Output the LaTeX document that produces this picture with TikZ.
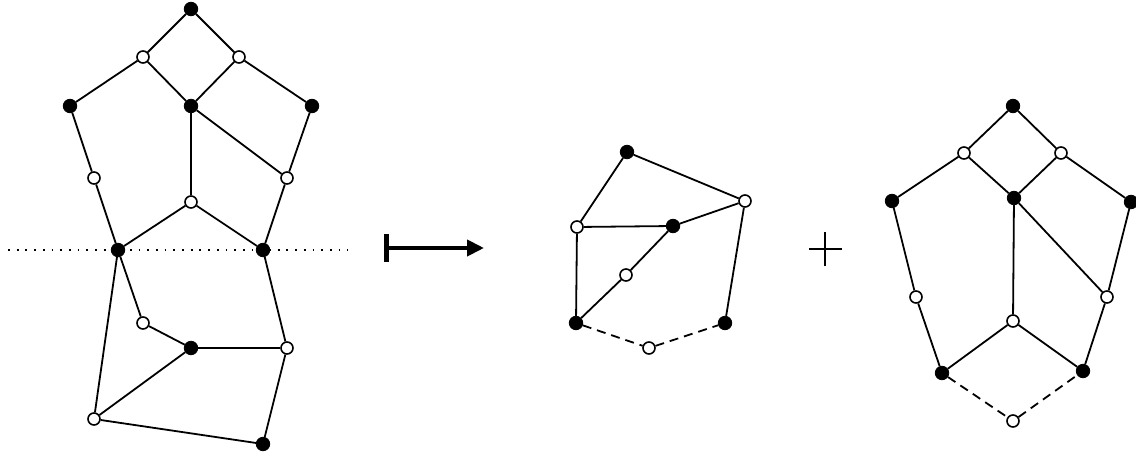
\documentclass[tikz,border=0pt]{standalone}
\usetikzlibrary{arrows.meta}
\begin{document}
\begin{tikzpicture}[x=1pt,y=-1pt,
  edge/.style={line width=1.8pt},
  dedge/.style={line width=1.8pt,dash pattern=on 9pt off 6pt},
  bv/.style={circle,fill=black,draw=black,line width=0.8pt,minimum size=13.5pt,inner sep=0pt},
  wv/.style={circle,fill=white,draw=black,line width=1.6pt,minimum size=12pt,inner sep=0pt}]
\useasboundingbox (0,0) rectangle (1136,455);
% ---- left graph ----
\draw[line width=1.8pt,dash pattern=on 1.8pt off 6.9pt] (8,250) -- (348,250);
\node[bv] (T) at (191,9) {};
\node[wv] (a1) at (143,57) {};
\node[wv] (a2) at (239,57) {};
\node[bv] (L) at (70,106) {};
\node[bv] (C) at (191,106) {};
\node[bv] (R) at (312,106) {};
\node[wv] (w1) at (94,178) {};
\node[wv] (w2) at (287,178) {};
\node[wv] (m) at (191,202) {};
\node[bv] (B1) at (118,250) {};
\node[bv] (B2) at (263,250) {};
\node[wv] (w3) at (143,323) {};
\node[bv] (B3) at (191,348) {};
\node[wv] (w4) at (287,348) {};
\node[wv] (w5) at (94,419) {};
\node[bv] (B4) at (263,444) {};
\foreach \u/\v in {T/a1,T/a2,a1/L,a1/C,a2/C,a2/R,L/w1,w1/B1,C/m,C/w2,R/w2,w2/B2,m/B1,m/B2,B1/w3,B1/w5,w3/B3,B3/w4,B3/w5,B2/w4,w4/B4,w5/B4}
  \draw[edge] (\u) -- (\v);
% ---- maps-to arrow ----
\coordinate (ms) at (386,248);
\coordinate (me) at (484,248);
\draw[line width=4pt,-{Triangle[length=17pt,width=16pt]}] (ms) -- (me);
\draw[line width=5pt] (386,234) -- (386,262);
% ---- middle graph ----
\node[bv] (mt) at (627,152) {};
\node[wv] (mr) at (745,201) {};
\node[wv] (ml) at (577,227) {};
\node[bv] (mc) at (673,226) {};
\node[wv] (mm) at (626,275) {};
\node[bv] (mbl) at (576,323) {};
\node[bv] (mbr) at (725,323) {};
\node[wv] (mbw) at (649,348) {};
\foreach \u/\v in {mt/ml,mt/mr,ml/mc,mc/mr,ml/mbl,mc/mm,mm/mbl,mr/mbr}
  \draw[edge] (\u) -- (\v);
\draw[dedge] (mbl) -- (mbw);
\draw[dedge] (mbw) -- (mbr);
% ---- plus ----
\draw[line width=1.3pt] (809,249) -- (842,249);
\draw[line width=1.3pt] (825,232) -- (825,266);
% ---- right graph ----
\node[bv] (rT) at (1013,106) {};
\node[wv] (ra1) at (964,153) {};
\node[wv] (ra2) at (1061,153) {};
\node[bv] (rL) at (892,201) {};
\node[bv] (rC) at (1014,198) {};
\node[bv] (rR) at (1131,202) {};
\node[wv] (rw1) at (916,297) {};
\node[wv] (rw2) at (1107,297) {};
\node[wv] (rm) at (1013,321) {};
\node[bv] (rB1) at (942,373) {};
\node[bv] (rB2) at (1083,371) {};
\node[wv] (rbw) at (1013,421) {};
\foreach \u/\v in {rT/ra1,rT/ra2,ra1/rL,ra1/rC,ra2/rC,ra2/rR,rL/rw1,rw1/rB1,rC/rm,rC/rw2,rR/rw2,rw2/rB2,rm/rB1,rm/rB2}
  \draw[edge] (\u) -- (\v);
\draw[dedge] (rB1) -- (rbw);
\draw[dedge] (rbw) -- (rB2);
\end{tikzpicture}
\end{document}
